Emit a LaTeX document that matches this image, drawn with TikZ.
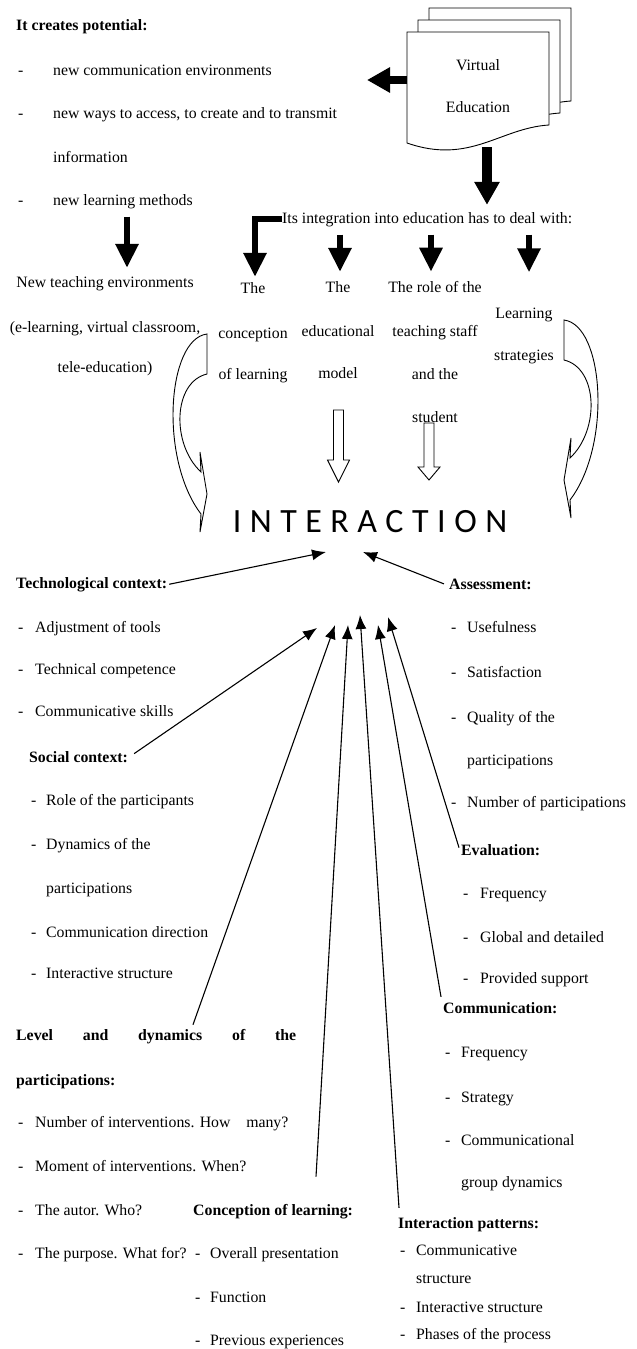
\documentclass[tikz,border=0pt]{standalone}
\usepackage{fontspec}
\setmainfont{Liberation Serif}
\newfontfamily\interfont[LetterSpace=25]{Carlito}
\usetikzlibrary{arrows.meta,calc}

\tikzset{
  txt/.style={inner sep=0pt, anchor=base west, font=\fontsize{15.8}{18}\selectfont},
  hd/.style={txt, font=\fontsize{15.8}{18}\selectfont\bfseries},
  ctr/.style={inner sep=0pt, anchor=base, font=\fontsize{15.8}{18}\selectfont},
  thin/.style={line width=1.1pt, -{Latex[length=14pt,width=11pt]}},
  fat/.style={line width=6pt, -{Triangle[length=24pt,width=22pt]}},
  doc/.style={draw, line width=.9pt, fill=white},
  hollow/.style={draw, line width=.9pt, fill=white}
}

\begin{document}
\begin{tikzpicture}[x=1pt,y=-1pt]
\useasboundingbox (0,0) rectangle (637,1349);

% virtual education (three sheets)
\foreach \s in {2,1,0}
  \draw[doc, shift={(11*\s,-12*\s)}] (407,32) -- (549,32) -- (549,125) .. controls (500,128) and (470,165) .. (407,143) -- cycle;
\node[ctr] (virt) at (478,70) {Virtual};
\node[ctr] (educ) at (478,112) {Education};
\coordinate (docW) at (407,80);
\coordinate (docS) at (487,147);

% it creates potential
\node[hd] (pot) at (16,30) {It creates potential:};
\foreach \yy/\lbl [count=\i] in {70/new communication environments, 113/{new ways to access, to create and to transmit}, 200/new learning methods}{
  \node[txt] (potd\i) at (18,\yy+5) {-};
  \node[txt] (pot\i) at (53,\yy+5) {\lbl};
}
\node[txt] (pot4) at (53,162) {information};
\coordinate (potTip) at (367,80);
\draw[fat, line width=8pt, -{Triangle[length=23pt,width=24pt]}] (docW) -- (potTip);

% new teaching environments
\node[ctr] (nt1) at (105,287) {New teaching environments};
\node[ctr] (nt2) at (105,332) {(e-learning, virtual classroom,};
\node[ctr] (nt3) at (105,372) {tele-education)};
\draw[fat] ($(pot3.south -| nt1.north)+(22,8)$) -- ($(nt1.north)+(22,-8)$);

% integration
\node[txt] (integ) at (282,223) {Its integration into education has to deal with:};
\draw[fat, line width=10pt, -{Triangle[length=23pt,width=24pt]}] (docS) -- ($(docS |- integ.north)+(0,-7)$);

\node[ctr] (c1a) at (253,293) {The};
\node[ctr] (c1b) at (253,338) {conception};
\node[ctr] (c1c) at (253,379) {of learning};
\node[ctr] (c2a) at (338,292) {The};
\node[ctr] (c2b) at (338,336) {educational};
\node[ctr] (c2c) at (338,378) {model};
\node[ctr] (c3a) at (435,292) {The role of the};
\node[ctr] (c3b) at (435,336) {teaching staff};
\node[ctr] (c3c) at (435,379) {and the};
\node[ctr] (c3d) at (435,422) {student};
\node[ctr] (c4a) at (524,318) {Learning};
\node[ctr] (c4b) at (524,360) {strategies};

\draw[fat] (integ.west) -| ($(c1a.north)+(2,-5)$);
\foreach \c/\dx/\dy in {c2a/2/-9, c3a/-4/-9, c4a/5/-35}
  \draw[fat] ($(integ.south -| \c.north)+(\dx,8)$) -- ($(\c.north)+(\dx,\dy)$);

% hollow arrows
\foreach \x/\ya/\yb/\yc in {338.5/410/460/482, 429/423/467/480}
  \draw[hollow] (\x-5,\ya) -- (\x+5,\ya) -- (\x+5,\yb) -- (\x+11,\yb) -- (\x,\yc) -- (\x-11,\yb) -- (\x-5,\yb) -- cycle;

% curved arrows
\foreach \sx/\dx/\dy in {1/0/0, -1/771/14}{
  \begin{scope}[shift={(\dx,\dy)}, xscale=\sx]
    \draw[line width=.9pt] (564,320) .. controls (604,325) and (612,445) .. (570,500) -- (571,518) -- (564,480) -- (571,438) -- (570,458) .. controls (600,430) and (598,368) .. (564,360) -- cycle;
  \end{scope}
}

\node[inner sep=0pt, font={\interfont\fontsize{34}{36}\selectfont}] (inter) at (370,522) {INTERACTION};

\coordinate (tTech) at (326,552);
\coordinate (tAss) at (363,552);
\coordinate (tSoc) at (317,628);
\coordinate (tLev) at (335,625);
\coordinate (tCon) at (348,625);
\coordinate (tPat) at (360,615);
\coordinate (tCom) at (378,625);
\coordinate (tEva) at (388,617);

% left side
\node[hd] (tech) at (16,588) {Technological context:};
\foreach \yy/\lbl [count=\i] in {627/Adjustment of tools, 669/Technical competence, 711/Communicative skills}{
  \node[txt] (techd\i) at (18,\yy+5) {-};
  \node[txt] (tech\i) at (35,\yy+5) {\lbl};
}
\node[hd] (soc) at (29,762) {Social context:};
\foreach \yy/\lbl [count=\i] in {800/Role of the participants, 844/Dynamics of the, 932/Communication direction, 973/Interactive structure}{
  \node[txt] (socd\i) at (31,\yy+5) {-};
  \node[txt] (soc\i) at (46,\yy+5) {\lbl};
}
\node[txt] (soc5) at (46,893) {participations};
\node[hd] (lev) at (16,1040) {\makebox[280pt][s]{Level and dynamics of the}};
\node[hd] (lev0) at (16,1085) {participations:};
\foreach \yy/\lbl [count=\i] in {1122/Number of interventions. How\quad many?, 1166/Moment of interventions. When?, 1210/The autor. Who?, 1253/The purpose. What for?}{
  \node[txt] (levd\i) at (18,\yy+5) {-};
  \node[txt] (lev\i) at (35,\yy+5) {\lbl};
}
\node[hd] (con) at (193,1215) {Conception of learning:};
\foreach \yy/\lbl [count=\i] in {1253/Overall presentation, 1297/Function, 1340/Previous experiences}{
  \node[txt] (cond\i) at (195,\yy+5) {-};
  \node[txt] (con\i) at (210,\yy+5) {\lbl};
}

% right side
\node[hd] (ass) at (449,589) {Assessment:};
\foreach \yy/\lbl [count=\i] in {627/Usefulness, 672/Satisfaction, 717/Quality of the, 802/Number of participations}{
  \node[txt] (assd\i) at (451,\yy+5) {-};
  \node[txt] (ass\i) at (467,\yy+5) {\lbl};
}
\node[txt] (ass5) at (467,765) {participations};
\node[hd] (eva) at (461,855) {Evaluation:};
\foreach \yy/\lbl [count=\i] in {893/Frequency, 937/Global and detailed, 978/Provided support}{
  \node[txt] (evad\i) at (463,\yy+5) {-};
  \node[txt] (eva\i) at (480,\yy+5) {\lbl};
}
\node[hd] (com) at (443,1013) {Communication:};
\foreach \yy/\lbl [count=\i] in {1052/Frequency, 1097/Strategy, 1140/Communicational}{
  \node[txt] (comd\i) at (445,\yy+5) {-};
  \node[txt] (com\i) at (461,\yy+5) {\lbl};
}
\node[txt] (com4) at (461,1187) {group dynamics};
\node[hd] (pat) at (398,1228) {Interaction patterns:};
\foreach \yy/\lbl [count=\i] in {1250/Communicative, 1307/Interactive structure, 1334/Phases of the process}{
  \node[txt] (patd\i) at (400,\yy+5) {-};
  \node[txt] (pat\i) at (416,\yy+5) {\lbl};
}
\node[txt] (pat4) at (416,1283) {structure};

% arrows to interaction
\draw[thin] ($(tech.east)+(2,0)$) -- (tTech);
\draw[thin] ($(ass.west)+(-5,0)$) -- (tAss);
\draw[thin] ($(soc.east)+(6,-3)$) -- (tSoc);
\draw[thin] ($(lev.north west)+(177,-4)$) -- (tLev);
\draw[thin] ($(con.north west)+(123,-27)$) -- (tCon);
\draw[thin] ($(pat.north west)+(1,-9)$) -- (tPat);
\draw[thin] ($(com.north west)+(-2,-5)$) -- (tCom);
\draw[thin] ($(eva.west)+(-2,-2)$) -- (tEva);

\end{tikzpicture}
\end{document}
